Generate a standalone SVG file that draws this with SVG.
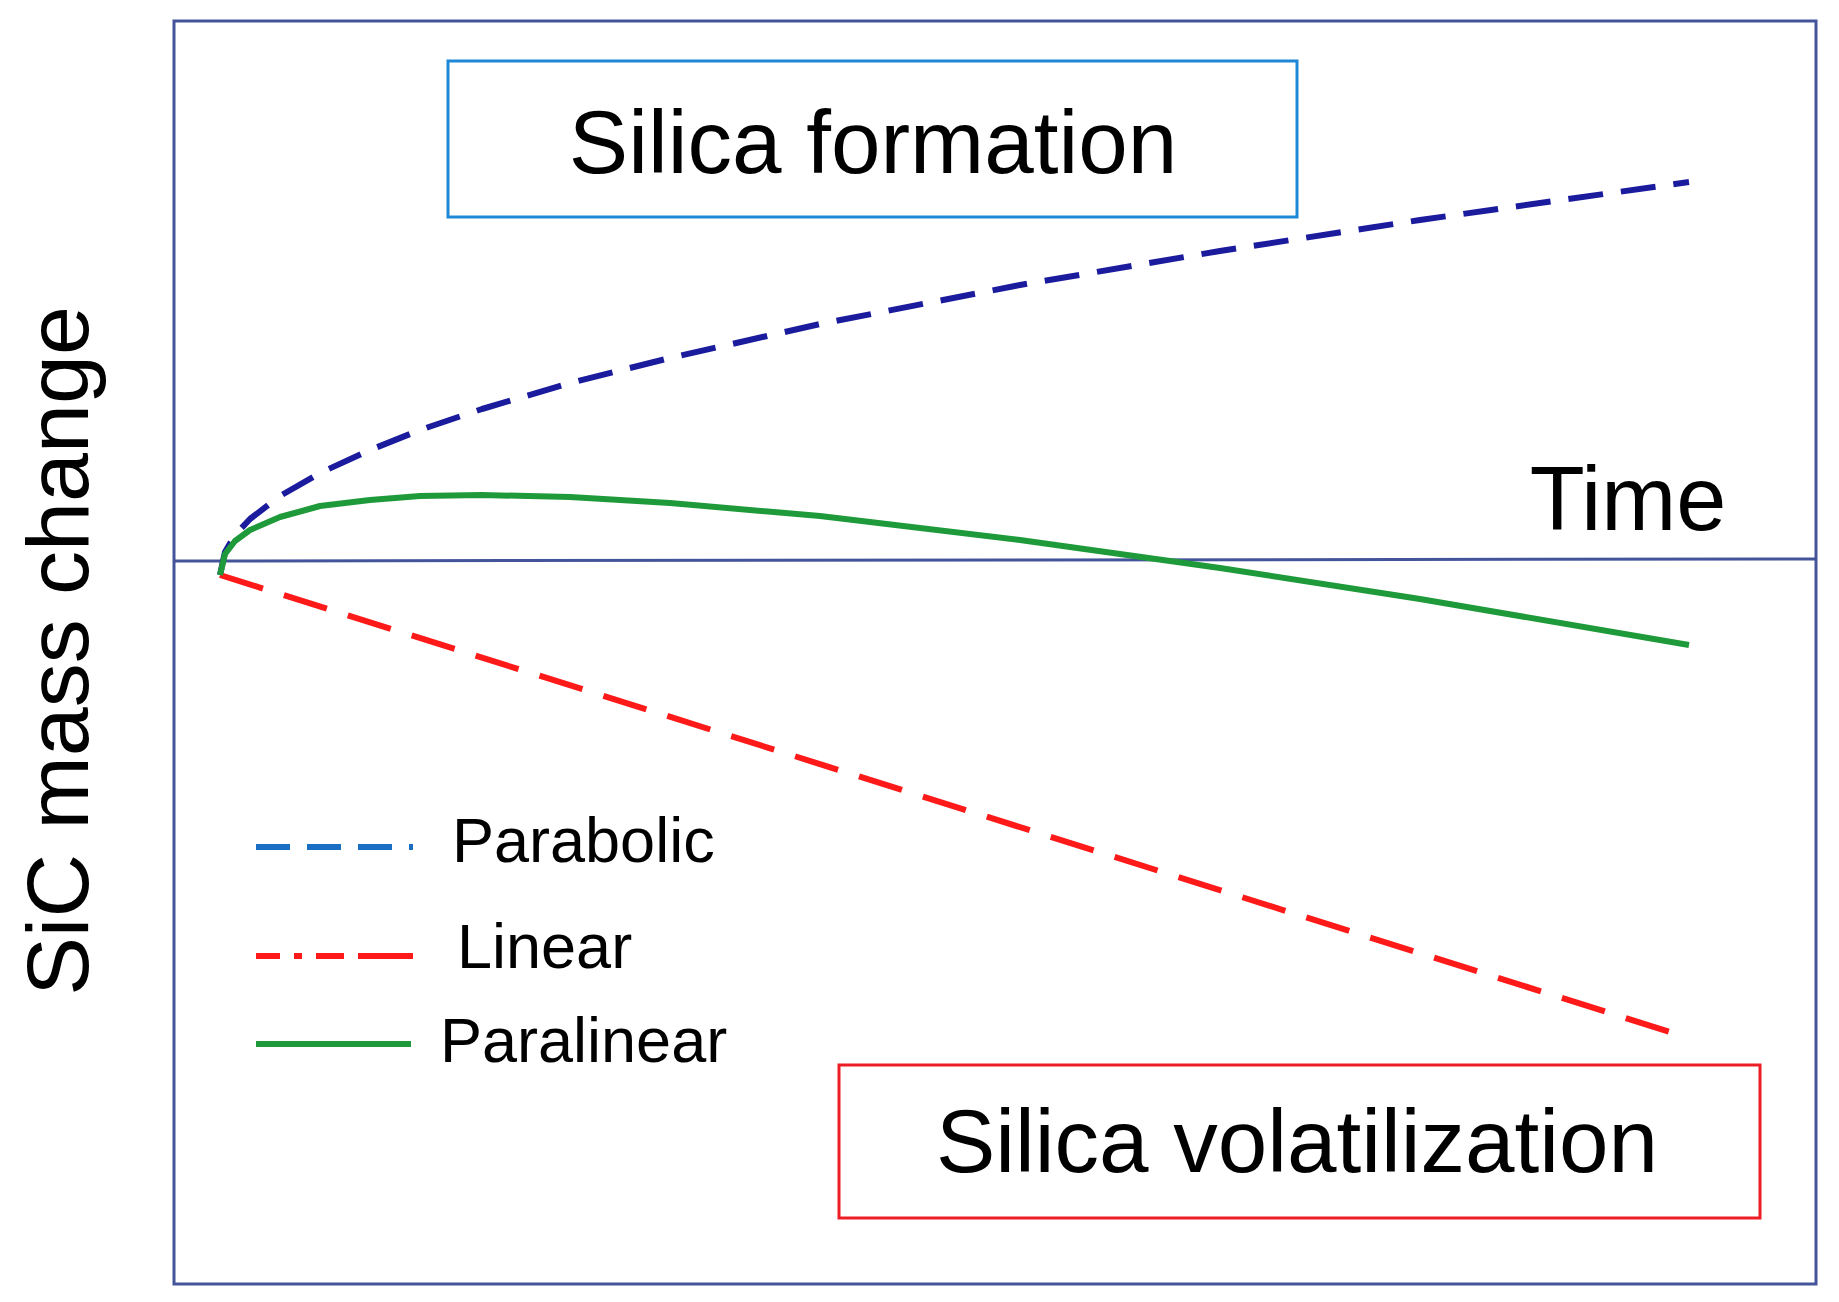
<svg xmlns="http://www.w3.org/2000/svg" width="1839" height="1302" viewBox="0 0 1839 1302">
<style>
text{font-family:"Liberation Sans",Arial,sans-serif;fill:#000}
.big{font-size:89px}
.leg{font-size:63px}
.frame{fill:none;stroke:#44549a;stroke-width:3}
</style>
<rect width="1839" height="1302" fill="#fff"/>
<g id="axes">
<rect class="frame" x="174" y="21" width="1642" height="1263"/>
<line x1="174" y1="561" x2="1816" y2="559" stroke="#44549a" stroke-width="3"/>
</g>
<g id="labels">
<text style="font-size:88px" transform="translate(88,651) rotate(-90)" text-anchor="middle">SiC mass change</text>
<text style="font-size:90px" x="1628" y="530" text-anchor="middle">Time</text>
</g>
<g id="box-formation">
<rect x="448" y="61" width="849" height="156" fill="none" stroke="#1e88d6" stroke-width="3"/>
<text class="big" x="873" y="173" text-anchor="middle">Silica formation</text>
</g>
<g id="box-volatilization">
<rect x="839" y="1065" width="921" height="153" fill="none" stroke="#ee1c24" stroke-width="3"/>
<text class="big" x="1297" y="1172" text-anchor="middle">Silica volatilization</text>
</g>
<g id="curves" fill="none" stroke-width="6" stroke-linejoin="round">
<polyline stroke="#1b1b9e" stroke-dasharray="35,18" points="220,575 225,552 235,535 250,519 280,496 320,473 370,450 420,430 482,409 570,383 670,358 820,324 1020,285 1220,251 1420,220 1689,182"/>
<line x1="220" y1="575" x2="1689" y2="1038" stroke="#ff1a1a" stroke-dasharray="45,22"/>
<polyline stroke="#1f9a3a" points="220,575 225,554 235,541 250,530 280,517 320,506 370,500 420,496 482,495 570,497 670,503 820,516 1020,540 1220,568 1420,599 1689,645"/>
</g>
<g id="legend">
<line x1="256" y1="847" x2="413" y2="847" stroke="#1a6fc4" stroke-width="6" stroke-dasharray="34,17"/>
<text class="leg" x="452" y="862">Parabolic</text>
<path d="M256,956h24M294,956h8M316,956h28M358,956h55" stroke="#ff1a1a" stroke-width="6"/>
<text class="leg" x="457" y="968">Linear</text>
<line x1="256" y1="1044" x2="411" y2="1044" stroke="#1f9a3a" stroke-width="6"/>
<text class="leg" x="440" y="1062">Paralinear</text>
</g>
</svg>
